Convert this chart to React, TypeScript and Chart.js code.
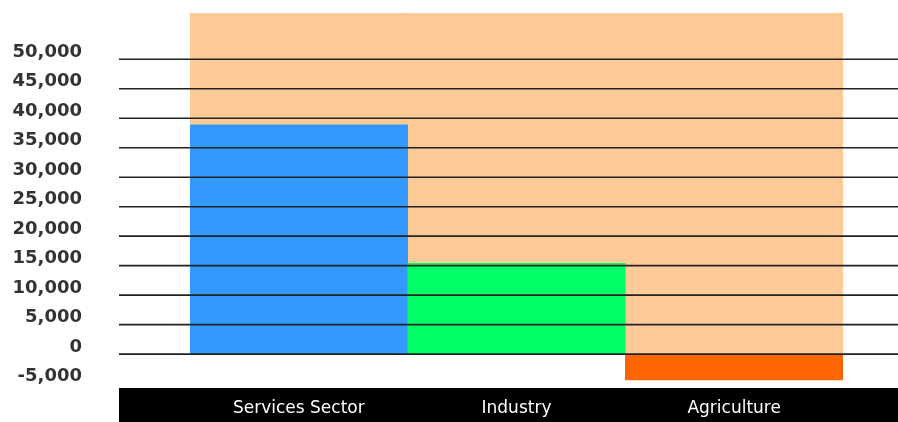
import React, { useEffect, useRef } from "react";
import { Chart, registerables } from "chart.js";

Chart.register(...registerables);

const CATEGORIES = ["Services Sector", "Industry", "Agriculture"];
const VALUES = [38900, 15400, -4400];
const BAR_COLORS = ["#3399FF", "#00FF66", "#FF6600"];
const BAND_VALUES = [57850, 57850, 57850];
const BAND_COLOR = "#FECB98";
const Y_TICKS = [-5000, 0, 5000, 10000, 15000, 20000, 25000, 30000, 35000, 40000, 45000, 50000];
const Y_MIN = -5750;
const Y_MAX = 57850;

const GRID_EXT_LEFT = 71;

const decor = {
  id: "decor",
  beforeDraw(chart: any) {
    const { ctx, chartArea, scales } = chart;
    const left = chartArea.left - GRID_EXT_LEFT;
    ctx.save();
    ctx.fillStyle = "#000";
    ctx.fillRect(left, scales.x.top, chart.width - left, scales.x.bottom - scales.x.top);
    ctx.restore();
  },
  afterDatasetsDraw(chart: any) {
    const { ctx, chartArea, scales } = chart;
    const y = scales.y;
    const left = chartArea.left - GRID_EXT_LEFT;
    ctx.save();
    ctx.strokeStyle = "#222";
    ctx.lineWidth = 1.6;
    for (const t of y.ticks) {
      if (t.value < 0) continue;
      const py = y.getPixelForValue(t.value);
      ctx.beginPath();
      ctx.moveTo(left, py);
      ctx.lineTo(chart.width, py);
      ctx.stroke();
    }
    ctx.restore();
  },
};

export default function App() {
  const ref = useRef<HTMLCanvasElement | null>(null);
  useEffect(() => {
    if (!ref.current) return;
    const chart = new Chart(ref.current, {
      type: "bar",
      data: {
        labels: CATEGORIES,
        datasets: [
          {
            label: "Value",
            data: VALUES,
            backgroundColor: BAR_COLORS,
            borderWidth: 0,
            barPercentage: 1,
            categoryPercentage: 1,
            grouped: false,
            order: 0,
          } as any,
          {
            label: "Band",
            data: BAND_VALUES,
            backgroundColor: BAND_COLOR,
            borderWidth: 0,
            barPercentage: 1,
            categoryPercentage: 1,
            grouped: false,
            order: 1,
          } as any,
        ],
      },
      options: {
        responsive: false,
        maintainAspectRatio: false,
        animation: false,
        layout: { padding: { top: 13, right: 55, left: 0, bottom: 0 } },
        plugins: { legend: { display: false }, tooltip: { enabled: false } },
        scales: {
          x: {
            grid: { display: false },
            border: { display: false },
            ticks: {
              color: "#fff",
              font: { family: "DejaVu Sans", size: 17 },
              padding: 2,
              maxRotation: 0,
            },
            afterFit: (s: any) => {
              s.height = 34;
            },
          } as any,
          y: {
            min: Y_MIN,
            max: Y_MAX,
            grid: {
              display: true,
              drawOnChartArea: false,
              drawTicks: true,
              tickLength: 108,
              color: "rgba(0,0,0,0)",
            },
            border: { display: false },
            afterBuildTicks: (axis: any) => {
              axis.ticks = Y_TICKS.map((v) => ({ value: v }));
            },
            afterFit: (s: any) => {
              s.width = 190;
            },
            ticks: {
              color: "#333",
              font: { family: "DejaVu Sans", size: 18, weight: "bold" },
              padding: 0,
              labelOffset: -7,
              callback: (v: any) => Number(v).toLocaleString("en-US"),
            },
          } as any,
        },
      },
      plugins: [decor],
    });
    return () => chart.destroy();
  }, []);
  return (
    <div style={{ position: "absolute", left: 0, top: 0, width: 898, height: 422 }}>
      <canvas ref={ref} width={898} height={422} />
    </div>
  );
}
